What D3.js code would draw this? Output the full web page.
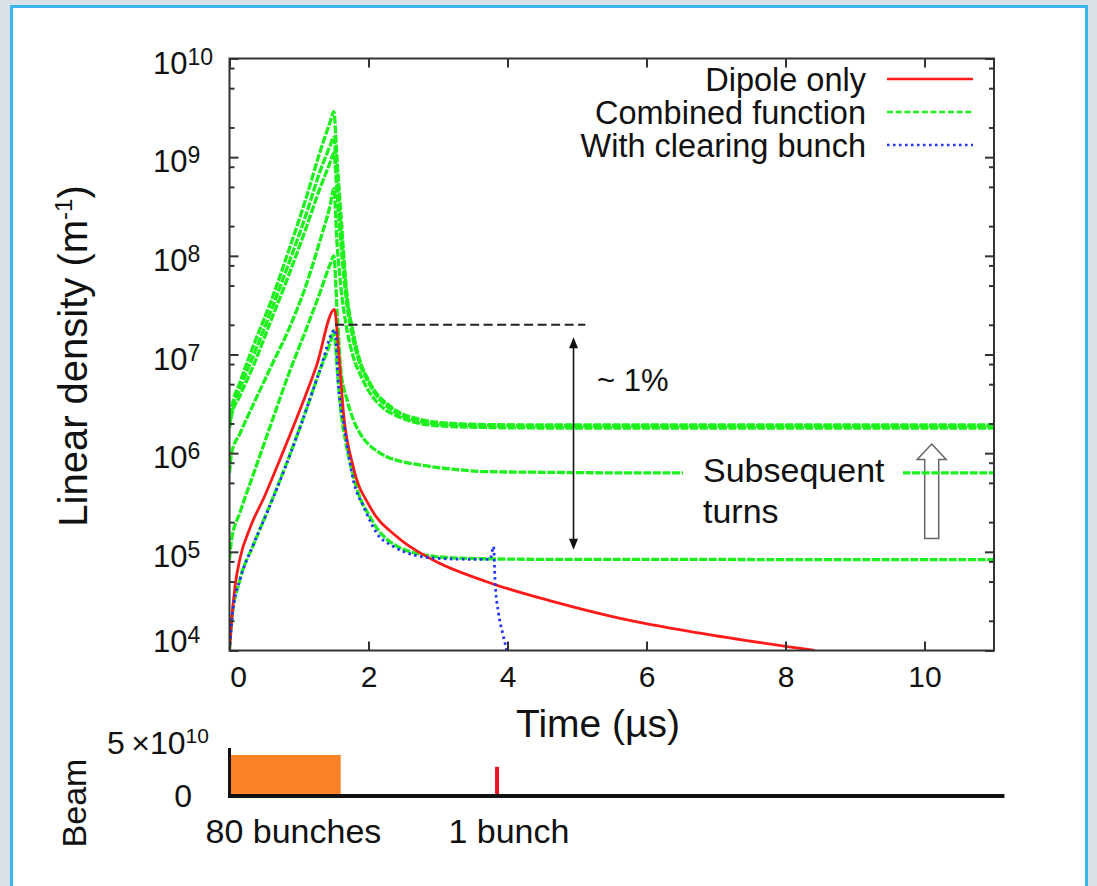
<!DOCTYPE html>
<html><head><meta charset="utf-8">
<script src="https://cdn.jsdelivr.net/npm/d3@7"></script>
<style>
html,body{margin:0;padding:0;background:#d9e2e8;}
svg{display:block;font-family:"Liberation Sans",Arial,Helvetica,sans-serif;}
</style></head><body>
<svg id="fig" width="1097" height="886"></svg>
<script>
// ---- Electron cloud linear density (m^-1) versus time (µs) ----
// Dipole only
const dipoleTime    = [0, 0.03, 0.08, 0.15, 0.3, 0.5, 0.75, 1.0, 1.25, 1.51, 1.565, 1.64, 1.78, 2.02, 2.41, 2.93, 3.7, 4.66, 5.62, 6.77, 8.42];
const dipoleDensity = [1.0e4, 2.0e4, 4.5e4, 8.5e4, 1.78e5, 3.6e5, 9.5e5, 2.6e6, 7.6e6, 2.87e7, 1.2e7, 2.54e6, 7.3e5, 2.87e5, 1.42e5, 8.26e4, 4.98e4, 3.13e4, 2.12e4, 1.5e4, 1.0e4];

// With clearing bunch
const clearingTime    = [0, 0.05, 0.15, 0.34, 0.55, 0.8, 1.06, 1.3, 1.52, 1.565, 1.66, 1.78, 1.93, 2.12, 2.36, 2.65, 2.98, 3.5, 3.75, 3.8, 3.82, 3.87, 3.93, 3.99];
const clearingDensity = [1.0e4, 2.6e4, 5.2e4, 1.17e5, 2.6e5, 7.1e5, 2.24e6, 6.9e6, 1.78e7, 5.1e6, 1.72e6, 5.35e5, 2.87e5, 1.54e5, 1.13e5, 9.3e4, 8.6e4, 8.4e4, 8.4e4, 1.13e5, 5.2e4, 2.4e4, 1.5e4, 1.0e4];

// Combined function magnet, successive turns
const combinedTime = [0, 0.03, 0.15, 0.35, 0.6, 0.85, 1.1, 1.3, 1.45, 1.5, 1.55, 1.6, 1.69, 1.78, 1.88, 2.0, 2.12, 2.26, 2.4, 2.74, 3.2, 3.7, 4.5, 6, 8, 11];
const combinedTurn1 = [1.0e4, 2.0e4, 5.2e4, 1.2e5, 3.2e5, 8.9e5, 2.7e6, 6.9e6, 1.32e7, 1.74e7, 7.1e6, 2.8e6, 1.12e6, 6.0e5, 3.5e5, 2.4e5, 1.74e5, 1.35e5, 1.15e5, 9.5e4, 8.7e4, 8.5e4, 8.4e4, 8.4e4, 8.35e4, 8.35e4];
const combinedTurn2 = [8.4e4, 1.32e5, 2.5e5, 6.3e5, 2.0e6, 6.3e6, 1.78e7, 4.2e7, 8.3e7, 1.0e8, 2.6e7, 7.1e6, 3.5e6, 2.2e6, 1.58e6, 1.23e6, 1.05e6, 9.2e5, 8.5e5, 7.6e5, 6.9e5, 6.5e5, 6.4e5, 6.3e5, 6.3e5, 6.3e5];
const combinedTurn3 = [6.3e5, 1.0e6, 1.58e6, 3.2e6, 7.6e6, 1.78e7, 5.0e7, 1.41e8, 3.3e8, 4.8e8, 1.26e8, 5.0e7, 1.78e7, 9.5e6, 6.3e6, 4.3e6, 3.3e6, 2.7e6, 2.4e6, 2.0e6, 1.86e6, 1.82e6, 1.8e6, 1.8e6, 1.8e6, 1.8e6];
const combinedTurn4 = [1.8e6, 2.4e6, 3.8e6, 7.9e6, 2.24e7, 6.3e7, 1.9e8, 4.8e8, 8.9e8, 1.1e9, 4.0e8, 1.41e8, 3.2e7, 1.41e7, 7.9e6, 5.2e6, 3.8e6, 3.0e6, 2.57e6, 2.1e6, 1.95e6, 1.9e6, 1.88e6, 1.88e6, 1.88e6, 1.88e6];
const combinedTurn5 = [1.88e6, 2.6e6, 4.5e6, 1.0e7, 2.8e7, 8.3e7, 2.6e8, 7.1e8, 1.32e9, 1.6e9, 5.6e8, 2.0e8, 3.8e7, 1.58e7, 8.3e6, 5.4e6, 3.9e6, 3.1e6, 2.6e6, 2.14e6, 1.97e6, 1.93e6, 1.9e6, 1.9e6, 1.9e6, 1.9e6];
const combinedTurn6 = [1.9e6, 2.8e6, 5.2e6, 1.26e7, 3.5e7, 1.12e8, 3.8e8, 1.12e9, 2.3e9, 2.9e9, 8.9e8, 2.8e8, 4.0e7, 1.66e7, 8.5e6, 5.5e6, 4.0e6, 3.2e6, 2.7e6, 2.2e6, 2.0e6, 1.95e6, 1.93e6, 1.93e6, 1.93e6, 1.93e6];
const combinedTurns = [combinedTurn1, combinedTurn2, combinedTurn3, combinedTurn4, combinedTurn5, combinedTurn6];

// Axis ticks
const timeTicks = [0, 2, 4, 6, 8, 10];
const densityExponents = [4, 5, 6, 7, 8, 9, 10];
const minorMantissas = [2, 5, 8];

// Legend entries
const legendLabels = ["Dipole only", "Combined function", "With clearing bunch"];

// Annotations
const refLevel = 2.0e7;            // dashed reference level
const refSpan = [1.52, 5.12];
const dropTime = 4.95;             // double arrow position
const dropSpan = [1.5e7, 1.05e5];

// Beam structure
const trainSpan = [0, 1.6];        // 80-bunch train
const trainIntensity = 3.8e10;
const clearingBunchTime = 3.85;
const clearingBunchIntensity = 2.7e10;
const beamTickValues = [0, 5e10];
const beamLabels = ["80 bunches", "1 bunch"];

// ---------------- drawing ----------------
const svg = d3.select("#fig");
const FONT = '"Liberation Sans",Arial,Helvetica,sans-serif';
const INK = "#111";

// page frame
svg.append("rect").attr("x", 0).attr("y", 0).attr("width", 1097).attr("height", 886).attr("fill", "#d9e2e8");
svg.append("rect").attr("x", 11.5).attr("y", 6.5).attr("width", 1075).attr("height", 900)
  .attr("fill", "#fff").attr("stroke", "#3bb6ec").attr("stroke-width", 3);

const x = d3.scaleLinear().domain([0, 11]).range([229.5, 994]);
const y = d3.scaleLog().domain([1e4, 1e10]).range([650.5, 58.5]);
const [x0, x1] = x.range();
const [yb, yt] = y.range();

svg.append("clipPath").attr("id", "plotClip")
  .append("rect").attr("x", x0).attr("y", yt).attr("width", x1 - x0).attr("height", yb - yt);

// hollow arrow for "subsequent turns" (drawn under the curves)
(function () {
  const cx = 931.7, tip = 444, headY = 459.5, bot = 538.5, hw = 14.5, sw = 7;
  svg.append("path")
    .attr("d", `M${cx},${tip} L${cx + hw},${headY} L${cx + sw},${headY} L${cx + sw},${bot} L${cx - sw},${bot} L${cx - sw},${headY} L${cx - hw},${headY} Z`)
    .attr("fill", "#fff").attr("stroke", "#666").attr("stroke-width", 1.5);
})();

// curves
const line = d3.line().x(d => x(d[0])).y(d => y(d[1])).curve(d3.curveMonotoneX);
const curves = svg.append("g").attr("clip-path", "url(#plotClip)").attr("fill", "none");

const GREEN = "#1ef01e", RED = "#ff1a1a", BLUE = "#2233ff";
const GREEN_DASH = "8,1.6", BLUE_DASH = "2.5,3.5";

combinedTurns.forEach(turn => {
  curves.append("path")
    .attr("d", line(combinedTime.map((t, i) => [t, turn[i]])))
    .attr("stroke", GREEN).attr("stroke-width", 3.3).attr("stroke-dasharray", GREEN_DASH);
});
curves.append("path")
  .attr("d", line(dipoleTime.map((t, i) => [t, dipoleDensity[i]])))
  .attr("stroke", RED).attr("stroke-width", 2.8);
curves.append("path")
  .attr("d", line(clearingTime.map((t, i) => [t, clearingDensity[i]])))
  .attr("stroke", BLUE).attr("stroke-width", 2.8).attr("stroke-dasharray", BLUE_DASH);

// axes frame
svg.append("rect").attr("x", x0).attr("y", yt).attr("width", x1 - x0).attr("height", yb - yt)
  .attr("fill", "none").attr("stroke", "#333").attr("stroke-width", 2);

const axisColor = "#333";
// x ticks (inside, bottom and top)
const xAxisB = svg.append("g").attr("transform", `translate(0,${yb})`)
  .call(d3.axisBottom(x).tickValues(timeTicks).tickSize(-9).tickPadding(15).tickFormat(d3.format("d")));
const xAxisT = svg.append("g").attr("transform", `translate(0,${yt})`)
  .call(d3.axisTop(x).tickValues(timeTicks).tickSize(-9).tickFormat(""));
[xAxisB, xAxisT].forEach(g => {
  g.select(".domain").remove();
  g.selectAll(".tick line").attr("stroke", axisColor).attr("stroke-width", 2);
});
xAxisB.selectAll(".tick text").attr("font-size", 30).attr("font-family", FONT).attr("fill", INK)
  .attr("dx", d => d === 0 ? 8.5 : 0);

// y ticks (major + minor), left and right
const yMajor = densityExponents.map(e => Math.pow(10, e));
const yMinor = [];
densityExponents.slice(0, -1).forEach(e => minorMantissas.forEach(m => yMinor.push(m * Math.pow(10, e))));
const yAxisL = svg.append("g").attr("transform", `translate(${x0},0)`)
  .call(d3.axisLeft(y).tickValues(yMajor).tickSize(-9).tickFormat(""));
const yAxisR = svg.append("g").attr("transform", `translate(${x1},0)`)
  .call(d3.axisRight(y).tickValues(yMajor).tickSize(-9).tickFormat(""));
const yAxisLm = svg.append("g").attr("transform", `translate(${x0},0)`)
  .call(d3.axisLeft(y).tickValues(yMinor).tickSize(-5).tickFormat(""));
const yAxisRm = svg.append("g").attr("transform", `translate(${x1},0)`)
  .call(d3.axisRight(y).tickValues(yMinor).tickSize(-5).tickFormat(""));
[yAxisL, yAxisR, yAxisLm, yAxisRm].forEach(g => {
  g.select(".domain").remove();
  g.selectAll(".tick line").attr("stroke", axisColor).attr("stroke-width", 2);
});

// y tick labels 10^n (the lowest one is lifted clear of the time labels)
const yLab = svg.append("g").attr("font-family", FONT).attr("fill", INK);
densityExponents.forEach((e, i) => {
  const lift = i === 0 ? 14 : 0;
  const t = yLab.append("text").attr("x", 153).attr("y", y(Math.pow(10, e)) + 15 - lift).attr("text-anchor", "start");
  t.append("tspan").attr("font-size", 31).text("10");
  t.append("tspan").attr("font-size", 23).attr("dy", -9).text(e);
});

// axis titles
svg.append("text").attr("x", 598).attr("y", 737).attr("text-anchor", "middle")
  .attr("font-size", 39).attr("font-family", FONT).attr("fill", INK).text("Time (µs)");
const yTitle = svg.append("text").attr("transform", "translate(87,356) rotate(-90)").attr("text-anchor", "middle")
  .attr("font-size", 40).attr("font-family", FONT).attr("fill", INK);
yTitle.append("tspan").text("Linear density (m");
yTitle.append("tspan").attr("font-size", 24).attr("dy", -15).text("-1");
yTitle.append("tspan").attr("dy", 15).text(")");

// white box behind annotation text
svg.append("rect").attr("x", 683).attr("y", 441).attr("width", 220).attr("height", 98).attr("fill", "#fff");
const sub = svg.append("text").attr("font-size", 34).attr("font-family", FONT).attr("fill", INK);
sub.append("tspan").attr("x", 703).attr("y", 482).text("Subsequent");
sub.append("tspan").attr("x", 703).attr("y", 523).text("turns");

// dashed reference level and double arrow
svg.append("line").attr("x1", x(refSpan[0])).attr("x2", x(refSpan[1])).attr("y1", y(refLevel)).attr("y2", y(refLevel))
  .attr("stroke", "#222").attr("stroke-width", 2).attr("stroke-dasharray", "9,4.5");
(function () {
  const ax = x(dropTime), ya = y(dropSpan[0]), yb2 = y(dropSpan[1]), hl = 11, hw = 4.5;
  svg.append("line").attr("x1", ax).attr("x2", ax).attr("y1", ya + hl - 1).attr("y2", yb2 - hl + 1)
    .attr("stroke", INK).attr("stroke-width", 1.6);
  svg.append("path").attr("d", `M${ax},${ya} L${ax + hw},${ya + hl} L${ax - hw},${ya + hl} Z`).attr("fill", INK);
  svg.append("path").attr("d", `M${ax},${yb2} L${ax + hw},${yb2 - hl} L${ax - hw},${yb2 - hl} Z`).attr("fill", INK);
})();
svg.append("text").attr("x", 597).attr("y", 391).attr("font-size", 31).attr("font-family", FONT).attr("fill", INK).text("~ 1%");

// legend
const legend = svg.append("g").attr("font-family", FONT).attr("font-size", 32.5).attr("fill", INK);
const legendStyles = [
  { stroke: RED, dash: null },
  { stroke: GREEN, dash: "6,2.7" },
  { stroke: BLUE, dash: BLUE_DASH }
];
legendLabels.forEach((lab, i) => {
  const cy = 80 + i * 33;
  legend.append("text").attr("x", 866).attr("y", cy + 11).attr("text-anchor", "end").text(lab);
  legend.append("line").attr("x1", 887).attr("x2", 973).attr("y1", cy - 1).attr("y2", cy - 1)
    .attr("stroke", legendStyles[i].stroke).attr("stroke-width", 2.6)
    .attr("stroke-dasharray", legendStyles[i].dash);
});

// ---------------- beam panel ----------------
const xb = d3.scaleLinear().domain([0, 11.15]).range([229.5, 229.5 + 11.15 * 69.5]);
const yBeam = d3.scaleLinear().domain([0, 5e10]).range([796, 742]);

svg.append("rect").attr("x", xb(trainSpan[0])).attr("y", yBeam(trainIntensity))
  .attr("width", xb(trainSpan[1]) - xb(trainSpan[0])).attr("height", yBeam(0) - yBeam(trainIntensity))
  .attr("fill", "#fb8226");
svg.append("line").attr("x1", xb(clearingBunchTime)).attr("x2", xb(clearingBunchTime))
  .attr("y1", yBeam(clearingBunchIntensity)).attr("y2", yBeam(0))
  .attr("stroke", "#ee1122").attr("stroke-width", 4);
svg.append("line").attr("x1", xb(0)).attr("x2", xb(0)).attr("y1", 748).attr("y2", yBeam(0))
  .attr("stroke", INK).attr("stroke-width", 3);
svg.append("line").attr("x1", xb(0) - 1.5).attr("x2", xb(11.15)).attr("y1", yBeam(0)).attr("y2", yBeam(0))
  .attr("stroke", INK).attr("stroke-width", 4);

const beamLab = svg.append("g").attr("font-family", FONT).attr("fill", INK);
const b5 = beamLab.append("text").attr("x", 107).attr("y", yBeam(beamTickValues[1]) + 12).attr("text-anchor", "start");
b5.append("tspan").attr("font-size", 32).text("5\u2009×10");
b5.append("tspan").attr("font-size", 21).attr("dy", -11).text("10");
beamLab.append("text").attr("x", 192).attr("y", yBeam(beamTickValues[0]) + 11).attr("text-anchor", "end")
  .attr("font-size", 32).text("0");
svg.append("text").attr("transform", "translate(86,803) rotate(-90)").attr("text-anchor", "middle")
  .attr("font-size", 34).attr("font-family", FONT).attr("fill", INK).text("Beam");
beamLab.append("text").attr("x", xb(0.92)).attr("y", 843).attr("text-anchor", "middle").attr("font-size", 34).text(beamLabels[0]);
beamLab.append("text").attr("x", xb(4.02)).attr("y", 843).attr("text-anchor", "middle").attr("font-size", 34).text(beamLabels[1]);
</script>
</body></html>
